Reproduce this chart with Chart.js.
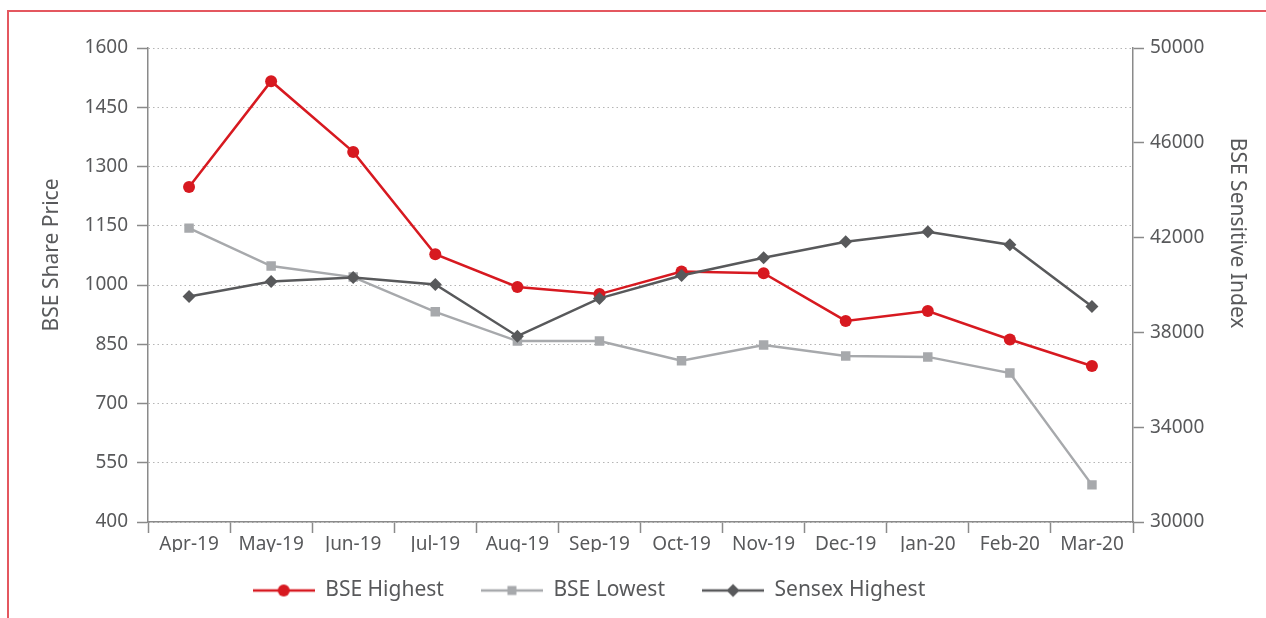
<!DOCTYPE html>
<html>
<head>
<meta charset="utf-8">
<title>BSE share price vs Sensex</title>
<script src="https://cdn.jsdelivr.net/npm/chart.js@4.4.1/dist/chart.umd.min.js"></script>
<style>
  html, body { margin: 0; padding: 0; background: #fff; }
  #wrap { position: relative; width: 1266px; height: 618px; }
  #frame {
    position: absolute; left: 7px; top: 10px; right: 0; bottom: 0;
    border-left: 2px solid #e4575f; border-top: 2px solid #e4575f;
    pointer-events: none;
  }
</style>
</head>
<body>
<div id="wrap">
  <canvas id="priceChart" width="1266" height="618"></canvas>
  <div id="frame"></div>
</div>
<script>
// data
const months = ['Apr-19', 'May-19', 'Jun-19', 'Jul-19', 'Aug-19', 'Sep-19',
                'Oct-19', 'Nov-19', 'Dec-19', 'Jan-20', 'Feb-20', 'Mar-20'];
const bseHighest = [1248, 1516, 1337, 1078, 995, 977, 1034, 1030, 909, 934, 862, 795];
const bseLowest = [1144, 1048, 1020, 932, 858, 858, 808, 848, 820, 818, 777, 494];
const sensexHighest = [39518, 40146, 40314, 40021, 37840, 39434, 40398, 41153, 41823, 42243, 41698, 39098];

const priceTicks = { min: 400, max: 1600, step: 150 };
const indexTicks = { min: 30000, max: 50000, step: 4000 };

const RED = '#d71920';
const LIGHT = '#a7a9ac';
const DARK = '#58595b';
const TEXT = '#58595b';
const AXIS = '#8a8a8a';
const GRID = '#b5b5b5';

Chart.defaults.font.family = "'Noto Sans', 'DejaVu Sans', sans-serif";
Chart.defaults.color = TEXT;

// line + marker swatch for the legend
function legendIcon(color, shape) {
  const c = document.createElement('canvas');
  c.width = 62;
  c.height = 16;
  const g = c.getContext('2d');
  g.strokeStyle = color;
  g.lineWidth = 2.5;
  g.beginPath();
  g.moveTo(0, 8);
  g.lineTo(62, 8);
  g.stroke();
  g.fillStyle = color;
  g.beginPath();
  if (shape === 'circle') {
    g.arc(31, 8, 6, 0, Math.PI * 2);
  } else if (shape === 'rect') {
    g.rect(26.5, 3.5, 9, 9);
  } else {
    g.moveTo(24.5, 8); g.lineTo(31, 1.5); g.lineTo(37.5, 8); g.lineTo(31, 14.5);
    g.closePath();
  }
  g.fill();
  return c;
}
const icons = [legendIcon(RED, 'circle'), legendIcon(LIGHT, 'rect'), legendIcon(DARK, 'diamond')];

// keep legend row where the reference has it
const legendPlacement = {
  id: 'legendPlacement',
  beforeUpdate(chart) {
    const lg = chart.legend;
    if (lg && !lg._patched) {
      const fit = lg.fit;
      lg.fit = function () { fit.call(this); this.height = 66; };
      lg._patched = true;
    }
  },
  afterLayout(chart) {
    const lg = chart.legend;
    lg.left -= 88;
    lg.top -= 9;
    lg.bottom -= 9;
  }
};

const plain = v => String(v);

const ctx = document.getElementById('priceChart').getContext('2d');

new Chart(ctx, {
  type: 'line',
  data: {
    labels: months,
    datasets: [
      {
        label: 'BSE Highest',
        data: bseHighest,
        yAxisID: 'y',
        borderColor: RED,
        backgroundColor: RED,
        borderWidth: 2.5,
        pointStyle: 'circle',
        pointRadius: 6,
        pointHoverRadius: 6,
        pointBorderWidth: 0,
        tension: 0,
        order: 1,
      },
      {
        label: 'BSE Lowest',
        data: bseLowest,
        yAxisID: 'y',
        borderColor: LIGHT,
        backgroundColor: LIGHT,
        borderWidth: 2.5,
        pointStyle: 'rect',
        pointRadius: 6.7,
        pointHoverRadius: 6.7,
        pointBorderWidth: 0,
        tension: 0,
        order: 2,
      },
      {
        label: 'Sensex Highest',
        data: sensexHighest,
        yAxisID: 'y1',
        borderColor: DARK,
        backgroundColor: DARK,
        borderWidth: 2.5,
        pointStyle: 'rectRot',
        pointRadius: 6.5,
        pointHoverRadius: 6.5,
        pointBorderWidth: 0,
        tension: 0,
        order: 0,
      },
    ],
  },
  options: {
    responsive: false,
    animation: false,
    devicePixelRatio: 1,
    layout: { padding: { top: 48, left: 0, right: 0, bottom: 0 } },
    plugins: {
      tooltip: { enabled: false },
      legend: {
        position: 'bottom',
        labels: {
          usePointStyle: true,
          pointStyleWidth: 62,
          padding: 37,
          color: TEXT,
          font: { size: 21 },
          sort: (a, b) => a.datasetIndex - b.datasetIndex,
          generateLabels(chart) {
            const items = Chart.defaults.plugins.legend.labels.generateLabels(chart);
            items.forEach(it => { it.pointStyle = icons[it.datasetIndex]; });
            return items;
          },
        },
      },
    },
    scales: {
      x: {
        offset: true,
        grid: {
          offset: true,
          drawOnChartArea: false,
          tickColor: AXIS,
          tickLength: 11,
          tickWidth: 1.5,
        },
        border: { color: AXIS, width: 1.5 },
        ticks: {
          autoSkip: false,
          maxRotation: 0,
          padding: 0,
          color: TEXT,
          font: { size: 19 },
        },
        afterFit(scale) { scale.height = 30; },
      },
      y: {
        position: 'left',
        min: priceTicks.min,
        max: priceTicks.max,
        ticks: {
          stepSize: priceTicks.step,
          padding: 9,
          color: TEXT,
          font: { size: 19 },
          callback: plain,
        },
        grid: {
          color: GRID,
          lineWidth: 1,
          tickColor: AXIS,
          tickLength: 11,
          tickWidth: 1.5,
          tickBorderDash: [],
        },
        border: { color: AXIS, width: 1.5, dash: [1.5, 3] },
        title: {
          display: true,
          text: ' '.repeat(11) + 'BSE Share Price',
          color: TEXT,
          font: { size: 21 },
          padding: { top: 39, bottom: 0 },
        },
        afterFit(scale) { scale.width = 148; },
      },
      y1: {
        position: 'right',
        min: indexTicks.min,
        max: indexTicks.max,
        ticks: {
          stepSize: indexTicks.step,
          padding: 6,
          color: TEXT,
          font: { size: 19 },
          callback: plain,
        },
        grid: {
          drawOnChartArea: false,
          tickColor: AXIS,
          tickLength: 11,
          tickWidth: 1.5,
        },
        border: { color: AXIS, width: 1.5 },
        title: {
          display: true,
          text: 'BSE Sensitive Index' + ' '.repeat(19),
          color: TEXT,
          font: { size: 21 },
          padding: { top: 16, bottom: 0 },
        },
        afterFit(scale) { scale.width = 133; },
      },
    },
  },
  plugins: [legendPlacement],
});
</script>
</body>
</html>
